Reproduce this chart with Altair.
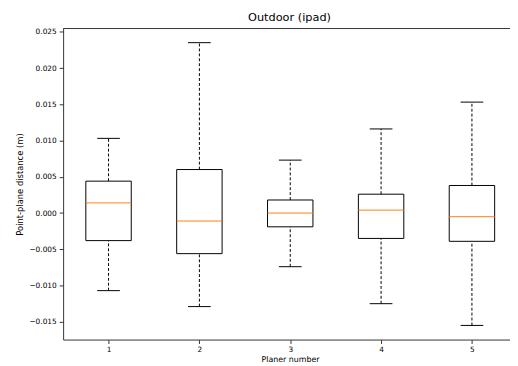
import altair as alt
import pandas as pd

planes = [1, 2, 3, 4, 5]
whislo = [-0.0107, -0.0129, -0.0074, -0.0125, -0.0155]
q1 = [-0.0038, -0.0056, -0.0019, -0.0035, -0.0039]
med = [0.0014, -0.0011, 0.0000, 0.0004, -0.0005]
q3 = [0.0044, 0.0060, 0.0018, 0.0026, 0.0038]
whishi = [0.0103, 0.0235, 0.0073, 0.0116, 0.0153]
y_ticks = [-0.015, -0.01, -0.005, 0.0, 0.005, 0.01, 0.015, 0.02, 0.025]

df = pd.DataFrame(dict(plane=planes, whislo=whislo, q1=q1, med=med, q3=q3, whishi=whishi))

FONT = "DejaVu Sans"
AX = "#333333"

x_scale = alt.Scale(domain=[0.5, 5.419], nice=False, zero=False)
y_scale = alt.Scale(domain=[-0.01745, 0.02545], nice=False, zero=False)

xaxis = alt.Axis(values=planes, format="d", grid=False, title="Planer number",
                 tickSize=4, labelPadding=2, labelFontSize=7.5, labelFont=FONT, labelColor="black",
                 titleFontSize=8, titleFont=FONT, titleFontWeight="normal", titleColor="black",
                 titlePadding=3, titleX=230.5, domainColor=AX, tickColor=AX, labelOverlap=False)
yaxis = alt.Axis(values=y_ticks,
                 labelExpr="replace(format(datum.value, '.3f'), '-', '\u2212')",
                 grid=False, title="Point-plane distance (m)", labelOverlap=False,
                 tickSize=4, labelPadding=3, labelFontSize=7.5, labelFont=FONT, labelColor="black",
                 titleFontSize=8.5, titleFont=FONT, titleFontWeight="normal", titleColor="black",
                 titlePadding=4, domainColor=AX, tickColor=AX)

base = alt.Chart(df).transform_calculate(
    left="datum.plane - 0.25", right="datum.plane + 0.25",
    capl="datum.plane - 0.125", capr="datum.plane + 0.125")


def X(f):
    return alt.X(f, scale=x_scale, axis=xaxis)


def Y(f):
    return alt.Y(f, scale=y_scale, axis=yaxis)


whisk_hi = base.mark_rule(color="black", strokeWidth=1, strokeDash=[3, 2]).encode(
    x=X("plane:Q"), y=Y("q3:Q"), y2="whishi:Q")
whisk_lo = base.mark_rule(color="black", strokeWidth=1, strokeDash=[3, 2]).encode(
    x=X("plane:Q"), y=Y("whislo:Q"), y2="q1:Q")
cap_hi = base.mark_rule(color="black", strokeWidth=1).encode(
    x=X("capl:Q"), x2="capr:Q", y=Y("whishi:Q"))
cap_lo = base.mark_rule(color="black", strokeWidth=1).encode(
    x=X("capl:Q"), x2="capr:Q", y=Y("whislo:Q"))
box = base.mark_bar(fill="white", stroke="black", strokeWidth=1).encode(
    x=X("left:Q"), x2="right:Q", y=Y("q1:Q"), y2="q3:Q")
median = base.mark_rule(color="#ff7f0e", strokeWidth=1).encode(
    x=X("left:Q"), x2="right:Q", y=Y("med:Q"))
# top frame line of the plot area
frame_top = alt.Chart(pd.DataFrame({"f": [0]})).mark_rule(color=AX, strokeWidth=1).encode(
    x=alt.value(0), x2=alt.value(454), y=alt.value(0))

chart = alt.layer(whisk_hi, whisk_lo, cap_hi, cap_lo, box, median, frame_top).properties(
    width=454, height=316,
    title=alt.TitleParams("Outdoor (ipad)", fontSize=11.5, font=FONT, fontWeight="normal",
                          color="black", dx=3, offset=4),
    autosize=alt.AutoSizeParams(type="none"),
    padding={"left": 56, "top": 18, "right": 0, "bottom": 24},
).configure_view(stroke=None)

chart.save("out.html", embed_options={"renderer": "svg", "actions": False})
